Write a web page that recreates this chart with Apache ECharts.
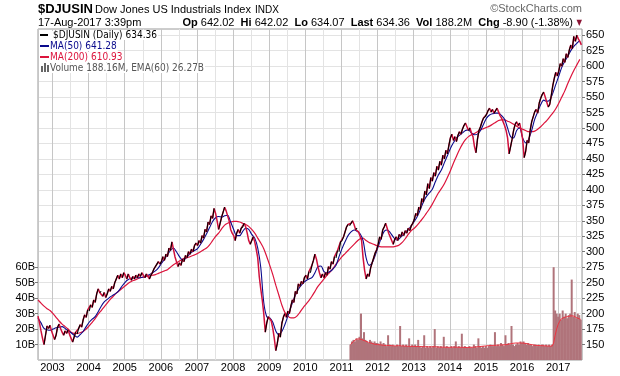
<!DOCTYPE html>
<html>
<head>
<meta charset="utf-8">
<title>$DJUSIN</title>
<script src="https://cdn.jsdelivr.net/npm/echarts@6/dist/echarts.min.js"></script>
<style>
  html, body { margin: 0; padding: 0; background: #fff; }
  #chart { width: 620px; height: 376px; }
</style>
</head>
<body>
<div id="chart"></div>
<script>
// price, semi-monthly samples starting mid 2002 (decimal years)
var priceStart = 2002.6, priceStep = 1 / 24
var closes = [
  196, 185, 172, 160, 150, 165, 180, 176, 181, 172,                                                   // 2002
  170, 158, 165, 178, 183, 176, 170, 165, 172, 168, 174, 166, 160, 154, 162, 170, 167, 176, 182, 178, 190, 198, 194, 206, // 2003
  204, 214, 210, 222, 218, 232, 240, 234, 236, 228, 234, 226, 232, 240, 236, 244, 240, 250, 256, 262, 256, 264, 258, 266, // 2004
  262, 256, 264, 258, 254, 260, 256, 262, 258, 264, 260, 266, 262, 258, 264, 260, 256, 262, 266, 272, 276, 280, 284, 280, // 2005
  284, 292, 286, 296, 292, 306, 302, 316, 304, 292, 284, 276, 282, 278, 288, 284, 294, 290, 300, 296, 304, 300, 310, 314, // 2006
  310, 318, 314, 326, 322, 336, 332, 348, 344, 358, 354, 370, 362, 350, 336, 346, 356, 364, 372, 366, 358, 350, 336, 330, // 2007
  326, 318, 330, 336, 330, 338, 340, 346, 340, 330, 318, 312, 318, 324, 316, 304, 290, 260, 240, 222, 200, 170, 185, 195, // 2008
  192, 188, 176, 160, 140, 152, 168, 162, 184, 194, 200, 194, 204, 200, 212, 222, 218, 236, 232, 248, 244, 252, 248, 258, // 2009
  262, 256, 268, 266, 278, 286, 296, 288, 276, 266, 258, 264, 258, 266, 262, 276, 272, 284, 280, 292, 290, 302, 300, 316, // 2010
  318, 324, 332, 340, 344, 342, 346, 350, 344, 336, 338, 332, 330, 318, 290, 270, 256, 264, 260, 274, 282, 290, 298, 303, // 2011
  312, 324, 320, 335, 340, 346, 338, 330, 324, 318, 312, 320, 324, 318, 328, 324, 332, 326, 334, 330, 338, 334, 342, 346, // 2012
  352, 362, 358, 372, 368, 386, 380, 398, 392, 410, 402, 420, 414, 428, 422, 438, 432, 446, 440, 456, 450, 464, 458, 472, // 2013
  484, 490, 480, 486, 478, 488, 494, 490, 498, 504, 508, 502, 496, 500, 492, 486, 470, 460, 482, 496, 502, 510, 516, 518, // 2014
  522, 528, 532, 526, 530, 524, 528, 532, 526, 520, 516, 510, 504, 496, 484, 458, 470, 482, 496, 506, 510, 504, 508, 496, // 2015
  482, 452, 462, 480, 476, 496, 510, 518, 526, 530, 524, 540, 548, 554, 558, 550, 542, 534, 538, 552, 568, 580, 590, 584, // 2016
  592, 604, 600, 612, 606, 620, 614, 626, 634, 628, 648, 640, 650, 644, 640, 634.36                  // 2017
]

// moving averages, monthly samples from the same start
var maStart = 2002.6, maStep = 1 / 12
var ma50 = [
  193, 185, 176, 174, 173,
  175, 177, 178, 179, 176, 172, 169, 165, 162, 166, 171, 179,
  186, 191, 195, 203, 212, 219, 223, 227, 230, 233, 238, 245,
  251, 255, 257, 258, 258, 258, 259, 261, 263, 266, 269, 274,
  281, 288, 295, 302, 306, 300, 292, 287, 289, 294, 299, 302,
  305, 312, 320, 329, 339, 349, 355, 357, 356, 358, 359, 348,
  336, 326, 326, 333, 338, 336, 328, 322, 306, 275, 218, 195,
  193, 186, 172, 166, 171, 182, 196, 210, 224, 235, 243, 249,
  253, 256, 258, 266, 276, 277, 268, 266, 268, 272, 278, 292,
  305, 316, 326, 332, 335, 333, 329, 318, 290, 278, 282, 294,
  308, 322, 333, 335, 331, 324, 319, 321, 326, 331, 336, 342,
  349, 357, 368, 380, 389, 395, 401, 413, 424, 432, 444, 455,
  467, 476, 484, 488, 492, 496, 497, 492, 489, 490, 496, 506,
  516, 521, 523, 524, 524, 520, 514, 500, 486, 484, 496, 500,
  484, 476, 482, 496, 514, 526, 538, 545, 543, 545, 556, 570,
  584, 598, 608, 616, 625, 632, 637, 641.28
]
var ma200 = [
  222, 217, 212, 208, 205,
  200, 194, 188, 183, 179, 175, 170, 168, 168, 169, 171, 175,
  180, 186, 192, 199, 205, 211, 217, 223, 228, 233, 237, 241,
  245, 249, 252, 254, 256, 258, 259, 260, 261, 262, 263, 265,
  267, 269, 271, 275, 279, 282, 285, 288, 290, 291, 293, 295,
  297, 300, 303, 306, 311, 318, 325, 330, 337, 343, 346, 348,
  349, 349, 348, 346, 344, 341, 336, 330, 322, 314, 305, 292,
  278, 263, 246, 230, 214, 202, 196, 193, 193, 196, 202, 209,
  215, 221, 228, 236, 244, 250, 256, 262, 267, 273, 280, 286,
  292, 297, 302, 307, 312, 317, 321, 322, 318, 315, 313, 311,
  309, 308, 308, 308, 308, 308, 309, 311, 315, 321, 328, 334,
  338, 343, 349, 355, 362, 369, 377, 386, 395, 402, 410, 420,
  431, 443, 454, 465, 474, 481, 486, 489, 491, 494, 497, 499,
  501, 503, 506, 509, 512, 513, 513, 511, 509, 506, 503, 500,
  498, 496, 494, 494, 495, 498, 502, 507, 512, 518, 524, 531,
  540, 550, 560, 572, 583, 593, 602, 610.93
]

// volume (billions), semi-monthly from spring 2011
var volStart = 2011.25, volStep = 1 / 24
var volume = [
  10, 12, 13, 12, 14, 13, 15, 30, 14, 18, 13, 12, 11, 13, 12, 11, 12, 11,
  11, 10, 12, 10, 11, 10, 9, 16, 10, 9, 10, 9, 9, 10, 9, 22, 9, 10, 9, 10, 9, 14, 9, 10,
  9, 10, 9, 13, 9, 8, 9, 16, 8, 9, 8, 9, 8, 9, 20, 8, 9, 8, 9, 8, 15, 8, 9, 8,
  8, 9, 8, 9, 12, 8, 9, 8, 17, 8, 9, 8, 8, 9, 8, 8, 10, 9, 8, 14, 9, 8, 9, 8,
  9, 8, 9, 10, 9, 9, 18, 9, 10, 9, 11, 10, 9, 16, 10, 11, 10, 22, 10, 9, 10, 11, 10, 12,
  11, 12, 11, 10, 11, 10, 10, 9, 10, 10, 9, 10, 9, 10, 10, 9, 10, 9, 10, 9, 10, 60, 32, 30,
  28, 30, 26, 32, 28, 30, 27, 29, 30, 52, 28, 31, 27, 30, 29, 26
]
var volEma = [
  10, 11, 12, 13, 13.5, 13.8, 13.6, 13.4, 13, 12.6, 12.2, 11.8, 11.4, 11, 10.8, 10.5, 10.2, 10,
  10, 9.9, 9.8, 9.6, 9.5, 9.4, 9.4, 9.5, 9.4, 9.3, 9.2, 9.1, 9.1, 9.2, 9.3, 9.2, 9.1, 9, 9, 8.9, 8.9, 8.8, 8.8, 8.8,
  8.8, 8.7, 8.7, 8.8, 8.7, 8.6, 8.6, 8.7, 8.6, 8.6, 8.5, 8.5, 8.5, 8.6, 8.6, 8.5, 8.4, 8.4, 8.3, 8.3, 8.3, 8.2, 8.2, 8.2,
  8.2, 8.2, 8.3, 8.3, 8.3, 8.2, 8.2, 8.3, 8.2, 8.2, 8.1, 8.1, 8.1, 8.1, 8.2, 8.2, 8.3, 8.4, 8.5, 8.6, 8.7, 8.8, 8.9, 9,
  9.1, 9.2, 9.3, 9.3, 9.4, 9.4, 9.5, 9.5, 9.6, 9.6, 9.7, 9.7, 9.8, 9.9, 10, 10.2, 10.4, 10.6, 10.8, 10.9, 11, 11, 11, 11,
  11, 11, 10.8, 10.6, 10.4, 10.2, 10, 9.8, 9.6, 9.5, 9.4, 9.4, 9.3, 9.3, 9.2, 9.2, 9.1, 9.1, 9, 9, 9, 11, 16, 20,
  23, 25, 26.5, 27, 27.5, 27.8, 28, 27.8, 28.5, 29, 28.5, 28, 27.5, 27, 26.6, 26.27
]

var priceTicks = [150, 175, 200, 225, 250, 275, 300, 325, 350, 375, 400, 425, 450, 475, 500, 525, 550, 575, 600, 625, 650]
var volTicks = [10, 20, 30, 40, 50, 60]
var lastVolume = '188.16M'

function toPairs(start, step, arr) {
    return arr.map(function (v, i) { return [start + i * step, v] })
}

var priceData = toPairs(priceStart, priceStep, closes)
// up moves drawn black on top of the red line
var upData = []
for (var i = 1; i < priceData.length; i++) {
    if (closes[i] >= closes[i - 1]) {
        upData.push(priceData[i - 1], priceData[i], [priceData[i][0], '-'])
    }
}

var FONT = '"Liberation Sans", Arial, sans-serif'
var LFONT = '"DejaVu Sans Condensed", "DejaVu Sans", Verdana, sans-serif'
var lastOf = function (a) { return a[a.length - 1] }
function legendText(x, y, text, color) {
    return {
        type: 'text', x: x, y: y, z: 10,
        style: { text: text, font: '10px ' + LFONT, fill: color, verticalAlign: 'middle', backgroundColor: '#fff', padding: [0, 1, 0, 0] }
    }
}

var chart = echarts.init(document.getElementById('chart'), null, { renderer: 'canvas' })
chart.setOption({
    animation: false,
    backgroundColor: '#fff',
    grid: {
        left: 38, right: 38, top: 29, bottom: 16,
        show: true, borderColor: '#9a9a9a', borderWidth: 1, backgroundColor: '#fff'
    },
    xAxis: [
        {
            // half-year grid
            type: 'value', min: 2002.6, max: 2017.66, splitNumber: 30, position: 'top',
            axisLine: { show: false }, axisTick: { show: false }, axisLabel: { show: false },
            splitLine: { show: true, lineStyle: { color: '#e3e3e3', width: 1 } }
        },
        {
            // year grid + labels
            type: 'value', min: 2002.6, max: 2017.66, splitNumber: 15, position: 'bottom',
            axisLine: { show: false }, axisTick: { show: false },
            axisLabel: {
                margin: 2, fontSize: 11, fontFamily: FONT, color: '#000',
                formatter: function (v) {
                    var r = Math.round(v)
                    return Math.abs(v - r) < 1e-6 ? String(r) : ''
                }
            },
            splitLine: { show: true, lineStyle: { color: '#c6c6c6', width: 1 } }
        }
    ],
    yAxis: [
        {
            type: 'value', position: 'right', min: 125, max: 660, interval: 25,
            axisLine: { show: false },
            axisTick: { show: true, length: 3, customValues: priceTicks, lineStyle: { color: '#777' } },
            axisLabel: { margin: 4, fontSize: 11, fontFamily: FONT, color: '#000', customValues: priceTicks },
            splitLine: { show: true, lineStyle: { color: '#e3e3e3', width: 1 } }
        },
        {
            type: 'value', position: 'left', min: 0, max: 214, interval: 10,
            axisLine: { show: false },
            axisTick: { show: true, length: 3, customValues: volTicks, lineStyle: { color: '#777' } },
            axisLabel: {
                margin: 3, fontSize: 11, fontFamily: FONT, color: '#000', customValues: volTicks,
                formatter: function (v) { return v + 'B' }
            },
            splitLine: { show: false }
        }
    ],
    series: [
        {
            name: 'Volume', type: 'bar', xAxisIndex: 0, yAxisIndex: 1,
            data: toPairs(volStart, volStep, volume), barWidth: 2, silent: true,
            itemStyle: { color: '#b0747b' }
        },
        {
            name: 'EMA(60)', type: 'line', xAxisIndex: 0, yAxisIndex: 1,
            data: toPairs(volStart, volStep, volEma), showSymbol: false, silent: true,
            lineStyle: { color: '#ee3340', width: 1 }
        },
        {
            name: 'MA(200)', type: 'line', xAxisIndex: 0, yAxisIndex: 0,
            data: toPairs(maStart, maStep, ma200), showSymbol: false, smooth: 0.3, silent: true,
            lineStyle: { color: '#dc143c', width: 1.2 }
        },
        {
            name: 'MA(50)', type: 'line', xAxisIndex: 0, yAxisIndex: 0,
            data: toPairs(maStart, maStep, ma50), showSymbol: false, smooth: 0.3, silent: true,
            lineStyle: { color: '#0a0a8c', width: 1.1 }
        },
        {
            name: '$DJUSIN', type: 'line', xAxisIndex: 0, yAxisIndex: 0,
            data: priceData, showSymbol: false, silent: true,
            lineStyle: { color: '#d0103c', width: 1.5 }
        },
        {
            name: 'up', type: 'line', xAxisIndex: 0, yAxisIndex: 0,
            data: upData, showSymbol: false, connectNulls: false, silent: true,
            lineStyle: { color: '#000', width: 1.1 }
        }
    ],
    graphic: [
        { type: 'text', x: 38, y: 9, style: { text: '$DJUSIN', font: 'bold 13px ' + FONT, fill: '#000', verticalAlign: 'middle' } },
        { type: 'text', x: 95, y: 10, style: { text: 'Dow Jones US Industrials Index', font: '11px ' + FONT, fill: '#000', verticalAlign: 'middle' } },
        { type: 'text', x: 255, y: 10, style: { text: 'INDX', font: '10px ' + FONT, fill: '#000', verticalAlign: 'middle' } },
        { type: 'text', x: 582, y: 9, style: { text: '\u00a9StockCharts.com', font: '11px ' + FONT, fill: '#666', align: 'right', verticalAlign: 'middle' } },
        { type: 'text', x: 38, y: 23, style: { text: '17-Aug-2017 3:39pm', font: '11px ' + FONT, fill: '#000', verticalAlign: 'middle' } },
        {
            type: 'text', x: 573, y: 23,
            style: {
                text: '{b|Op} 642.02  {b|Hi} 642.02  {b|Lo} 634.07  {b|Last} 634.36  {b|Vol} 188.2M  {b|Chg} -8.90 (-1.38%)',
                font: '11px ' + FONT, fill: '#000', align: 'right', verticalAlign: 'middle',
                rich: { b: { font: 'bold 11px ' + FONT, fill: '#000' } }
            }
        },
        { type: 'text', x: 582, y: 23, style: { text: '\u25bc', font: '8px ' + LFONT, fill: '#8b1535', align: 'right', verticalAlign: 'middle' } },

        // legend inside the plot
        { type: 'rect', z: 10, shape: { x: 39, y: 31, width: 14, height: 42 }, style: { fill: '#fff' } },
        { type: 'rect', z: 11, shape: { x: 40, y: 34, width: 8, height: 2 }, style: { fill: '#000' } },
        legendText(53, 35, '$DJUSIN (Daily) ' + lastOf(closes).toFixed(2), '#000'),
        { type: 'rect', z: 11, shape: { x: 40, y: 45, width: 9, height: 2 }, style: { fill: '#0a0a8c' } },
        legendText(50, 46, 'MA(50) ' + lastOf(ma50).toFixed(2), '#0a0a8c'),
        { type: 'rect', z: 11, shape: { x: 40, y: 56, width: 9, height: 2 }, style: { fill: '#dc143c' } },
        legendText(50, 57, 'MA(200) ' + lastOf(ma200).toFixed(2), '#dc143c'),
        { type: 'rect', z: 11, shape: { x: 41, y: 66, width: 2, height: 6 }, style: { fill: '#666' } },
        { type: 'rect', z: 11, shape: { x: 44, y: 63, width: 2, height: 9 }, style: { fill: '#666' } },
        { type: 'rect', z: 11, shape: { x: 47, y: 65, width: 2, height: 7 }, style: { fill: '#666' } },
        legendText(50, 68, 'Volume ' + lastVolume + ', EMA(60) ' + lastOf(volEma).toFixed(2) + 'B', '#555')
    ]
})
</script>
</body>
</html>
